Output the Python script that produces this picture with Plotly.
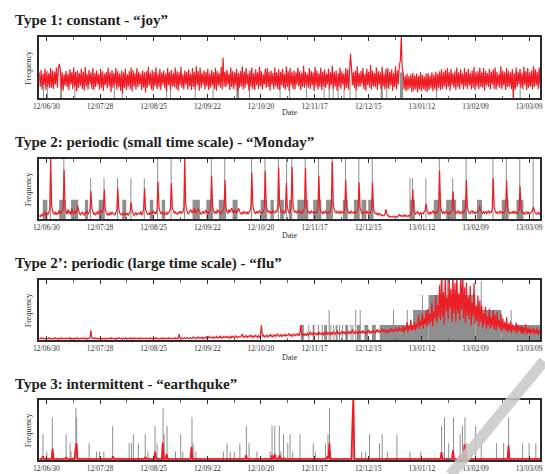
import numpy as np
import pandas as pd
import plotly.graph_objects as go

# ---------------- data ----------------
START = "2012-06-26"          # day offset 0
FIRST_SAMPLE = 0.25           # first red sample (day offset), 06:00
STEP = 0.5                    # red samples every 12 hours
X_FROM, X_TO = 0.25, 261.8    # visible window (day offsets)
TICK0 = "2012-06-30"

# Type 1: "joy" (half-day values, one line = one week Tue..Mon)
red_joy = [
    42,18,46,14,40,21,48,13,44,19,41,16,49,17,
    45,15,43,22,50,17,47,56,48,15,42,12,39,20,
    44,18,40,13,47,22,42,15,50,19,43,11,45,16,
    41,20,48,15,43,12,51,19,40,14,46,23,42,15,
    49,13,41,18,45,22,39,14,48,17,44,12,40,21,
    43,16,50,19,42,10,46,17,41,21,49,14,44,18,
    40,12,45,7,42,17,48,13,39,19,44,15,50,11,
    46,19,41,14,49,18,43,22,40,13,45,17,42,9,
    44,17,51,21,41,14,46,12,43,19,50,15,40,18,
    48,13,42,22,45,17,40,11,49,21,43,14,46,19,
    41,18,50,15,44,12,42,21,51,17,39,14,45,22,
    43,14,47,19,40,13,49,18,42,15,52,21,44,12,
    50,17,41,22,45,14,43,19,48,13,40,17,46,21,
    42,15,49,12,44,21,41,17,51,14,66,19,43,18,
    46,22,40,13,50,18,44,15,42,21,48,11,41,17,
    44,19,52,14,43,17,49,22,40,12,45,18,50,15,
    41,13,47,21,42,15,51,19,44,14,39,22,48,17,
    49,18,43,12,45,22,41,14,50,19,42,15,47,13,
    43,21,48,17,40,14,52,18,44,12,49,21,42,15,
    45,14,42,22,50,19,44,13,41,18,53,17,43,21,
    40,17,49,15,44,21,42,11,51,19,45,14,41,18,
    50,13,43,19,47,17,40,22,48,14,42,21,53,15,
    42,19,45,12,41,18,50,15,44,22,40,13,49,17,
    47,14,43,72,51,21,42,17,45,13,52,19,41,18,
    44,22,49,15,40,12,48,21,43,17,54,14,45,19,
    41,18,50,13,44,22,42,15,51,19,40,14,48,17,
    49,15,43,21,47,12,41,18,52,14,45,22,55,60,
    100,48,42,14,37,11,40,13,36,16,39,10,41,12,
    37,15,40,9,36,14,42,11,38,15,35,12,40,10,
    41,13,37,16,42,11,38,15,43,12,40,17,44,13,
    47,15,42,19,46,14,49,18,43,12,48,21,41,17,
    44,13,50,18,42,15,47,22,40,14,49,19,43,15,
    48,21,41,14,45,17,51,13,42,19,44,15,50,18,
    42,17,49,12,44,21,41,18,48,14,43,22,47,15,
    50,14,43,19,40,17,52,15,45,21,42,13,49,18,
    44,19,42,15,47,0,41,14,50,18,43,22,48,17,
    41,15,51,21,44,13,49,17,42,19,45,14,52,18,
    47,21,43,15,50,19,
]
joy_blk_start = [11.2, 103.2, 178.5, 188.6]
joy_blk_end   = [12.2, 104.6, 179.6, 190.2]
joy_blk_level = [33, 34, 35, 42]
joy_spk_day = [2.5, 4.5, 18.9, 39.5, 43.6, 66.8, 68.8, 81.7, 91.0, 110.0, 126.0, 131.0,
               139.8, 149.0, 151.6, 153.7, 156.3, 159.4, 162.5, 165.6, 181.7, 207.7, 247.7, 251.3]
joy_spk_h   = [30, 28, 26, 30, 27, 25, 29, 31, 27, 26, 28, 30,
               25, 29, 31, 27, 30, 26, 32, 28, 29, 30, 27, 31]

# Type 2: "Monday"
red_monday = [
    6,4,7,5,9,6,12,8,10,7,11,16,100,22,
    14,9,8,12,7,10,9,15,8,11,13,18,82,20,
    12,8,16,9,13,7,18,11,9,14,10,12,22,15,
    10,7,9,12,8,6,11,9,14,8,10,15,46,18,
    12,8,10,7,9,13,8,11,16,9,12,17,49,16,
    11,7,9,6,10,8,12,9,8,7,11,14,51,19,
    10,8,7,9,6,11,8,7,10,6,9,13,28,14,
    9,6,8,11,7,9,10,8,13,7,9,16,51,17,
    11,8,9,7,12,8,10,14,9,11,8,15,62,21,
    13,9,11,8,10,7,9,12,8,10,13,17,60,20,
    14,10,12,9,8,11,10,13,9,12,11,19,100,24,
    15,10,9,12,16,11,13,9,18,12,10,14,17,13,
    11,8,10,13,9,12,15,10,11,9,14,18,72,22,
    14,10,12,9,16,11,13,10,9,12,15,19,65,20,
    13,9,16,11,14,18,12,10,15,9,13,12,18,14,
    10,8,11,9,13,10,9,12,8,11,14,20,78,23,
    15,11,9,13,10,12,14,9,11,10,13,18,80,22,
    16,11,13,10,12,9,15,11,10,13,12,19,86,24,
    15,10,12,14,9,11,60,22,13,10,12,20,87,23,
    14,11,13,10,12,15,11,9,13,10,14,19,85,22,
    15,10,12,9,14,11,10,13,9,12,11,18,72,21,
    13,11,9,12,10,14,11,9,12,10,13,20,96,25,
    16,12,10,13,11,9,14,10,12,11,10,17,65,20,
    14,10,12,9,13,11,10,12,9,11,13,18,61,19,
    13,9,11,10,12,9,14,10,11,9,12,16,61,18,
    12,9,8,10,7,9,8,6,7,5,6,8,16,9,
    6,4,5,3,4,3,5,4,3,4,3,5,8,5,
    6,4,5,7,4,6,5,4,6,5,8,14,49,16,
    11,8,10,13,9,7,11,8,10,9,12,15,25,14,
    10,8,12,9,11,14,10,9,12,10,11,18,81,22,
    14,10,12,9,11,13,10,8,12,9,11,15,46,18,
    12,9,11,14,10,12,9,11,13,10,12,17,65,20,
    13,10,9,12,14,10,12,9,11,10,13,15,22,14,
    11,9,12,10,13,9,11,14,10,12,11,17,68,20,
    14,10,12,9,11,13,10,12,9,11,12,18,64,19,
    13,9,11,10,12,9,14,10,11,9,12,16,55,18,
    12,9,11,8,10,12,9,11,8,10,11,14,20,13,
    10,8,9,11,8,10,
]
mon_blk_start = [2.1, 10.7, 16.9, 24.1, 31.3, 43.6, 58.0, 64.2, 80.3, 87.5, 94.0, 101.2, 115.8,
                 121.0, 126.0, 130.6, 135.0, 143.3, 150.0, 158.7, 164.5, 168.5, 172.0, 193.8,
                 206.2, 212.7, 221.0, 228.8, 241.7, 249.4]
mon_blk_end   = [4.5, 14.1, 20.6, 25.8, 34.4, 45.7, 59.8, 66.0, 84.1, 91.0, 97.8, 103.8, 119.2,
                 122.7, 128.0, 132.1, 140.7, 147.5, 153.5, 161.3, 167.5, 171.0, 174.8, 196.4,
                 210.0, 217.9, 223.6, 231.4, 245.3, 253.0]
mon_blk_level = [32] * 30
mon_spk_day = [6.1, 13.1, 27.1, 34.1, 41.1, 48.1, 55.1, 62.1, 69.1, 76.1, 90.1, 97.1, 111.1,
               118.1, 125.1, 129.4, 132.1, 139.1, 146.1, 153.1, 160.1, 167.1, 174.1, 193.8,
               195.1, 202.1, 209.1, 216.1, 223.1, 237.1, 244.1, 251.1, 258.1]
mon_spk_h   = [100, 100, 68, 68, 68, 68, 68, 100, 100, 100, 100, 100, 100,
               100, 100, 100, 100, 100, 100, 100, 100, 100, 100, 68,
               68, 68, 100, 68, 100, 100, 100, 100, 100]

# Type 2': "flu"
red_flu = [
    3,2,4,2,3,2,3,1,3,2,4,2,3,2,
    2,3,2,4,2,3,1,3,2,4,2,3,2,3,
    3,2,3,2,4,1,3,2,3,2,3,2,4,2,
    2,3,2,3,2,4,2,3,1,3,2,4,16,3,
    3,2,4,2,3,2,3,2,4,1,3,2,3,2,
    2,3,2,3,2,4,2,3,2,3,1,3,2,4,
    3,2,3,1,3,2,4,2,3,2,3,2,4,2,
    2,4,2,3,2,3,2,4,2,3,2,3,2,3,
    3,2,3,2,4,2,3,1,3,2,4,2,3,2,
    2,3,2,4,2,3,2,3,2,4,2,3,2,3,
    3,2,4,2,3,2,10,3,2,4,3,2,4,3,
    3,4,2,3,4,2,3,5,3,2,4,3,5,3,
    4,3,5,2,4,3,5,3,4,6,3,4,5,3,
    5,3,4,6,3,5,4,7,3,5,4,6,5,4,
    6,4,5,3,7,4,6,5,4,7,5,4,6,5,
    5,7,10,4,6,5,8,4,6,7,5,8,6,4,
    7,5,8,6,4,7,5,9,25,6,8,5,7,6,
    8,5,7,9,6,8,5,7,9,6,8,10,7,6,
    9,6,8,7,10,6,9,7,8,11,7,9,6,8,
    10,7,9,8,11,7,10,25,9,7,11,8,10,7,
    12,8,10,14,9,11,8,13,10,9,12,8,14,10,
    11,9,13,8,12,10,15,9,11,13,8,12,10,14,
    13,9,12,16,10,13,9,12,15,10,14,11,13,9,
    12,15,10,14,11,18,12,10,15,12,13,10,16,12,
    14,11,16,12,13,10,15,13,17,11,14,12,16,13,
    15,12,14,18,13,16,12,15,19,13,17,14,16,12,
    17,13,15,20,14,18,13,16,21,15,18,14,22,16,
    18,14,24,12,21,17,30,13,23,18,34,15,25,17,
    30,16,27,22,42,18,32,24,45,19,36,26,49,22,
    52,25,44,30,63,22,48,36,75,28,58,38,92,33,
    105,38,80,26,115,48,70,35,108,52,85,30,102,44,
    95,30,110,45,78,33,104,50,112,36,88,28,96,40,
    70,35,90,24,62,40,95,27,58,32,74,22,66,30,
    58,20,45,26,55,18,40,24,52,19,38,22,50,17,
    42,16,47,21,33,18,44,14,36,19,30,15,38,13,
    28,15,31,12,26,17,22,13,29,11,25,15,23,12,
    24,10,21,13,26,9,19,12,22,10,18,13,20,9,
    17,11,21,8,16,12,
]
flu_blk_start = [136.8, 143.0, 149.0, 155.0, 160.0, 166.0, 170.0, 174.0, 178.0, 195.4, 203.5, 228.0, 241.5]
flu_blk_end   = [138.4, 144.0, 150.5, 156.0, 161.5, 168.0, 172.0, 176.0, 195.4, 203.5, 228.0, 241.5, 261.8]
flu_blk_level = [25, 25, 25, 25, 25, 25, 25, 25, 25, 50, 75, 50, 25]
flu_spk_day = [141.0, 146.0, 148.0, 151.6, 152.5, 154.0, 157.0, 158.5, 163.0, 164.0, 165.5, 167.8,
               185.2, 192.4, 200.3, 211.0, 213.5, 216.0, 221.5, 231.0, 246.6]
flu_spk_h   = [25, 25, 25, 50, 25, 25, 25, 25, 25, 25, 50, 50,
               50, 50, 75, 100, 100, 100, 100, 98, 50]

# Type 3: "earthquke"
red_quake = [
    2,2,1,2,6,2,2,1,2,2,1,2,2,2,
    19,2,2,1,2,2,2,1,2,2,2,1,2,2,
    4,2,2,1,2,2,1,2,2,2,20,28,2,2,
    2,1,2,2,2,1,2,2,2,1,2,2,2,1,
    2,2,1,2,2,2,1,2,2,2,1,2,2,2,
    1,2,2,2,1,2,2,6,2,2,1,2,2,2,
    2,1,2,2,2,1,2,2,2,1,2,2,2,1,
    2,2,1,2,2,2,1,2,2,2,1,2,2,5,
    2,2,1,2,2,2,1,2,2,14,2,2,1,2,
    2,2,1,29,2,2,2,10,2,2,1,2,2,2,
    1,2,2,2,1,2,2,2,1,2,2,2,1,2,
    2,2,1,2,2,22,2,1,2,2,2,1,2,2,
    2,1,2,2,2,1,2,2,2,1,2,2,2,1,
    2,2,1,2,2,2,1,2,2,2,1,2,2,2,
    1,2,2,2,1,2,2,2,1,2,2,2,1,2,
    2,2,1,2,2,2,8,2,2,1,2,2,2,1,
    2,2,1,2,2,2,1,2,2,2,1,2,2,2,
    1,2,2,2,1,8,2,2,10,2,2,1,2,8,
    2,2,1,3,2,2,1,2,2,2,1,2,2,2,
    1,2,2,2,1,2,2,2,1,2,2,2,1,2,
    2,2,1,2,2,2,1,2,2,2,1,2,2,2,
    1,2,2,2,1,2,2,6,2,28,2,2,1,2,
    2,2,1,2,2,2,1,2,2,2,1,2,2,2,
    1,2,2,2,1,60,105,2,1,2,2,2,1,2,
    2,2,1,2,2,2,1,2,2,2,1,2,2,2,
    1,2,2,2,1,2,2,2,1,2,2,2,1,2,
    2,2,1,2,2,2,1,2,2,2,1,2,2,2,
    1,2,2,2,1,2,2,2,1,2,2,2,1,2,
    2,2,1,2,2,2,1,2,2,2,1,2,2,2,
    1,2,2,2,1,2,2,2,1,2,2,2,1,2,
    13,2,1,2,2,2,1,2,2,2,1,2,16,2,
    2,2,1,2,2,7,1,2,2,2,26,2,2,2,
    1,2,2,2,1,2,2,2,1,2,2,2,1,2,
    2,2,1,2,2,2,1,2,2,2,1,2,2,2,
    1,2,2,2,1,2,2,2,1,2,2,2,1,2,
    24,2,1,2,2,2,1,2,2,2,1,2,2,2,
    1,2,2,2,1,2,2,2,1,2,2,2,1,2,
    2,2,1,2,2,2,
]
quake_blk_start, quake_blk_end, quake_blk_level = [], [], []
quake_spk_day = [2.2, 4.2, 7.1, 14.3, 16.4, 16.9, 17.5, 19.4, 19.8, 26.3, 30.2, 31.8, 34.0, 38.6,
                 47.2, 48.4, 49.4, 52.0, 55.6, 57.0, 60.7, 61.8, 64.9, 65.5, 67.0, 71.4, 74.1,
                 75.2, 80.0, 80.6, 82.0, 96.4, 98.3, 100.0, 102.1, 105.0, 108.4, 109.8, 113.9,
                 120.8, 121.8, 123.2, 125.6, 126.4, 127.8, 130.0, 131.2, 132.6, 136.4, 143.3,
                 144.4, 149.7, 151.0, 151.8, 164.1, 168.6, 170.7, 172.7, 177.9, 179.3, 182.0,
                 187.0, 193.8, 199.5, 210.3, 211.8, 214.0, 216.5, 220.0, 221.2, 222.5, 223.5,
                 225.6, 228.1, 231.0, 239.0, 242.7, 245.3, 252.6, 256.0, 259.5]
quake_spk_h   = [43, 14, 71, 43, 28, 14, 5, 86, 71, 28, 14, 14, 14, 57,
                 28, 28, 43, 28, 43, 14, 57, 28, 86, 43, 57, 14, 43,
                 14, 71, 28, 14, 14, 28, 14, 14, 28, 57, 28, 14,
                 14, 57, 57, 57, 14, 43, 28, 43, 14, 43, 28,
                 14, 28, 43, 86, 57, 14, 14, 43, 28, 43, 14,
                 43, 14, 14, 57, 71, 28, 71, 43, 57, 71, 28,
                 14, 57, 28, 28, 28, 71, 28, 28, 28]

titles = ["Type 1: constant - “joy”",
          "Type 2: periodic (small time scale) - “Monday”",
          "Type 2’: periodic (large time scale) - “flu”",
          "Type 3: intermittent - “earthquke”"]

# ---------------- layout constants (pixels) ----------------
W, H = 545, 474
PLOT_L, PLOT_R = 33.7, 542.2
FRAMES = [(37, 98), (159, 219), (280, 340), (400, 460)]
TITLE_Y = [20, 142, 263, 384]
DATE_Y = [112, 235, 357, 477]
RED = "#ee1d25"
GRAY = "#8f8f8f"
FONT = "Liberation Serif"
DAY_MS = 86400000


def dates(days):
    t = pd.Timestamp(START) + pd.to_timedelta(np.asarray(days, dtype=float), unit="D")
    return [x.strftime("%Y-%m-%d %H:%M:%S") for x in t]


def px_x(p):
    return p / W


def px_y(p):
    return 1 - p / H


panels = [
    (red_joy, joy_blk_start, joy_blk_end, joy_blk_level, joy_spk_day, joy_spk_h, 1.2),
    (red_monday, mon_blk_start, mon_blk_end, mon_blk_level, mon_spk_day, mon_spk_h, 1.2),
    (red_flu, flu_blk_start, flu_blk_end, flu_blk_level, flu_spk_day, flu_spk_h, 1.2),
    (red_quake, quake_blk_start, quake_blk_end, quake_blk_level, quake_spk_day, quake_spk_h, 1.8),
]

fig = go.Figure()
layout = dict(
    width=W, height=H, margin=dict(l=0, r=0, t=0, b=0), autosize=False,
    paper_bgcolor="white", plot_bgcolor="white", showlegend=False,
    font=dict(family=FONT, color="#333"), barmode="overlay",
)
annotations = []

for k, (red, bs, be, bl, sd, sh, rw) in enumerate(panels, start=1):
    xs = "" if k == 1 else str(k)
    xa, ya = "x" + xs, "y" + xs
    # gray blocks
    if bs:
        fig.add_trace(go.Bar(
            x=dates(bs), y=bl, width=[(e - s) * DAY_MS for s, e in zip(bs, be)],
            offset=0, marker=dict(color=GRAY, line=dict(width=0)),
            xaxis=xa, yaxis=ya, hoverinfo="skip"))
    # gray spikes
    sx, sy = [], []
    for d, h in zip(dates(sd), sh):
        sx += [d, d, None]
        sy += [0, h, None]
    fig.add_trace(go.Scatter(x=sx, y=sy, mode="lines",
                             line=dict(color=GRAY, width=1, simplify=False),
                             xaxis=xa, yaxis=ya, hoverinfo="skip"))
    # red series
    rd = FIRST_SAMPLE + STEP * np.arange(len(red))
    fig.add_trace(go.Scatter(x=dates(rd), y=red, mode="lines",
                             line=dict(color=RED, width=rw, simplify=False),
                             xaxis=xa, yaxis=ya, hoverinfo="skip"))

    top, bot = FRAMES[k - 1]
    layout["xaxis" + xs] = dict(
        domain=[px_x(PLOT_L), px_x(PLOT_R)], anchor=ya, type="date",
        range=dates([X_FROM, X_TO]), tick0=TICK0, dtick=28 * DAY_MS,
        tickformat="%y/%m/%d", ticks="inside", ticklen=4, tickwidth=1, tickcolor="#333",
        minor=dict(tick0=TICK0, dtick=14 * DAY_MS, ticks="inside", ticklen=2.5,
                   tickcolor="#666", tickwidth=1),
        showline=True, linewidth=2, linecolor="#2a2a2a", mirror="ticks",
        showgrid=False, zeroline=False, ticklabeloverflow="allow", fixedrange=True,
        tickfont=dict(family=FONT, size=7.5, color="#333"),
    )
    layout["yaxis" + xs] = dict(
        domain=[px_y(bot), px_y(top)], anchor=xa, range=[0, 100],
        showticklabels=False, ticks="", showline=True, linewidth=2, linecolor="#2a2a2a",
        mirror=True, showgrid=False, zeroline=False, fixedrange=True,
    )
    annotations.append(dict(
        text="<b>" + titles[k - 1] + "</b>", xref="paper", yref="paper",
        x=px_x(7), y=px_y(TITLE_Y[k - 1]), xanchor="left", yanchor="middle",
        showarrow=False, font=dict(family=FONT, size=15, color="#222")))
    annotations.append(dict(
        text="Frequency", xref="paper", yref="paper", textangle=-90,
        x=px_x(22.6), y=px_y((top + bot) / 2), xanchor="center", yanchor="middle",
        showarrow=False, font=dict(family=FONT, size=8, color="#333")))
    annotations.append(dict(
        text="Date", xref="paper", yref="paper",
        x=px_x((PLOT_L + PLOT_R) / 2), y=px_y(DATE_Y[k - 1]), xanchor="center",
        yanchor="middle", showarrow=False, font=dict(family=FONT, size=8, color="#333")))

layout["annotations"] = annotations
layout["shapes"] = [dict(type="line", xref="paper", yref="paper",
                         x0=px_x(546), y0=px_y(361), x1=px_x(451), y1=px_y(475),
                         line=dict(color="rgba(200,200,200,0.85)", width=11), layer="above")]
fig.update_layout(**layout)
fig.write_html("out.html", config={"displayModeBar": False, "staticPlot": True},
               post_script="document.body.style.margin='0';document.body.style.overflow='hidden';")
